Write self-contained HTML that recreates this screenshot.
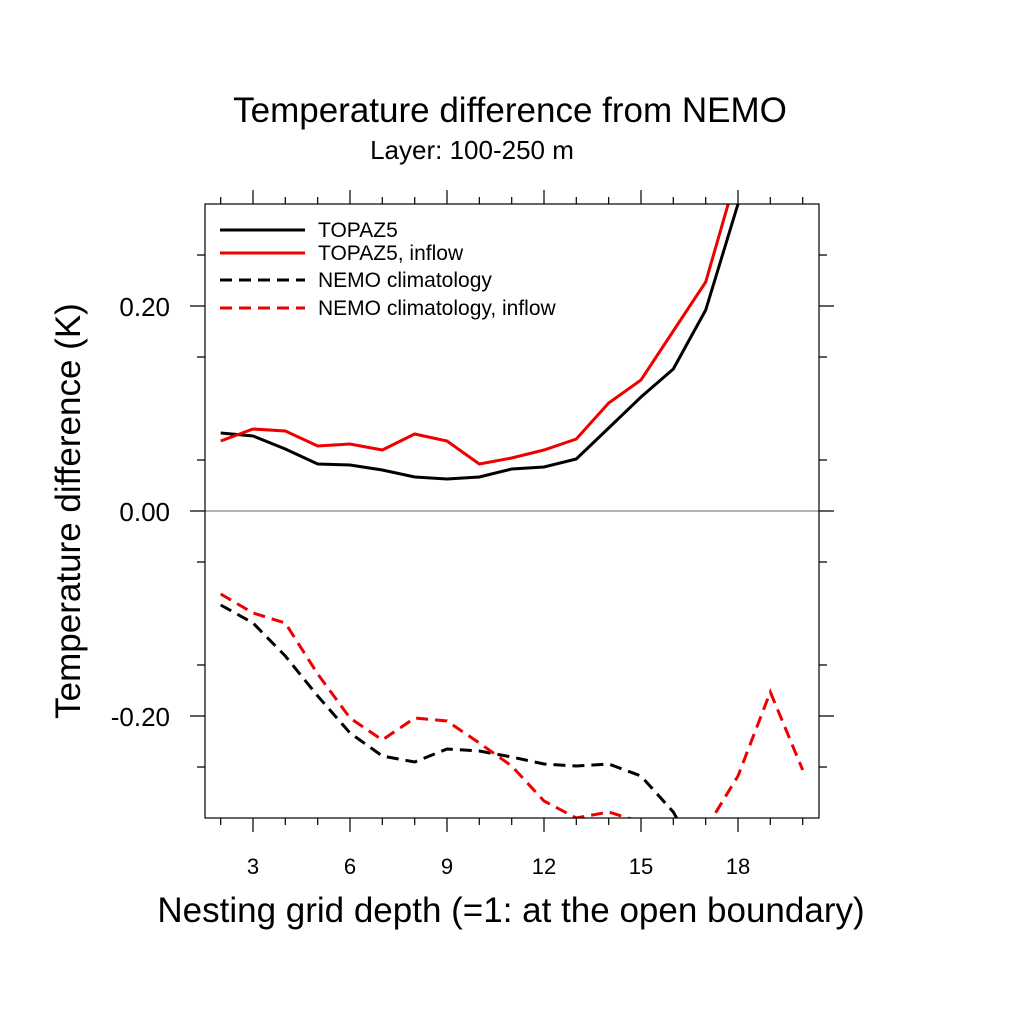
<!DOCTYPE html>
<html><head><meta charset="utf-8"><style>body{margin:0;background:#fff}</style></head><body>
<svg width="1024" height="1024" xmlns="http://www.w3.org/2000/svg" font-family="Liberation Sans, sans-serif">
<defs><clipPath id="c"><rect x="205" y="204" width="614" height="614"/></clipPath></defs>
<text x="510" y="122" font-size="35" text-anchor="middle">Temperature difference from NEMO</text>
<text x="472" y="159" font-size="26" text-anchor="middle">Layer: 100-250 m</text>
<line x1="205" y1="511" x2="819" y2="511" stroke="#999" stroke-width="1.5"/>
<g clip-path="url(#c)" fill="none" stroke-width="3">
<polyline stroke="#000" points="220.7,433 253,436 285.3,449 317.7,464 350,465 382.3,470 414.7,477 447,479 479.3,477 511.7,469 544,467 576.3,459 608.7,428 641,397 673.3,369 705.7,310 738,204 770,100"/>
<polyline stroke="#e00" points="220.7,441 253,429 285.3,431 317.7,446 350,444 382.3,450 414.7,434 447,441 479.3,464 511.7,458 544,450 576.3,439 608.7,403 641,380 673.3,331 705.7,282 738,170"/>
<polyline stroke="#000" stroke-dasharray="12,7" points="220.7,605 253,623 285.3,656 317.7,696 350,733 382.3,756 414.7,762 447,749 479.3,751 511.7,757 544,764 576.3,766 608.7,764 641,776 673.3,812 705.7,870"/>
<polyline stroke="#e00" stroke-dasharray="12,7" points="220.7,594 253,613 285.3,623 317.7,674 350,718 382.3,740 414.7,718 447,721 479.3,743 511.7,766 544,801 576.3,818 608.7,812 641,822 673.3,850 705.7,829 738,776 770.3,692 802.7,770"/>
</g>
<rect x="205" y="204" width="614" height="614" fill="none" stroke="#000" stroke-width="1.2"/>
<g stroke="#000" stroke-width="1.2">
<path d="M253,204v-14M350,204v-14M447,204v-14M544,204v-14M641,204v-14M738,204v-14M253,818v14M350,818v14M447,818v14M544,818v14M641,818v14M738,818v14"/>
<path d="M220.7,204v-7M285.3,204v-7M317.7,204v-7M382.3,204v-7M414.7,204v-7M479.3,204v-7M511.7,204v-7M576.3,204v-7M608.7,204v-7M673.3,204v-7M705.7,204v-7M770.3,204v-7M802.7,204v-7"/>
<path d="M220.7,818v7M285.3,818v7M317.7,818v7M382.3,818v7M414.7,818v7M479.3,818v7M511.7,818v7M576.3,818v7M608.7,818v7M673.3,818v7M705.7,818v7M770.3,818v7M802.7,818v7"/>
<path d="M205,306h-15M205,511h-15M205,716h-15M819,306h15M819,511h15M819,716h15"/>
<path d="M205,255h-8M205,357h-8M205,460h-8M205,562h-8M205,665h-8M205,767h-8M819,255h8M819,357h8M819,460h8M819,562h8M819,665h8M819,767h8"/>
</g>
<g font-size="22" text-anchor="middle">
<text x="253" y="874">3</text><text x="350" y="874">6</text><text x="447" y="874">9</text><text x="544" y="874">12</text><text x="641" y="874">15</text><text x="738" y="874">18</text>
</g>
<g font-size="26" text-anchor="end">
<text x="170" y="316">0.20</text><text x="170" y="521">0.00</text><text x="170" y="726">-0.20</text>
</g>
<text x="511" y="922" font-size="35" text-anchor="middle">Nesting grid depth (=1: at the open boundary)</text>
<text transform="translate(80,511) rotate(-90)" font-size="35" text-anchor="middle">Temperature difference (K)</text>
<g stroke-width="3">
<line x1="220" y1="230" x2="305" y2="230" stroke="#000"/>
<line x1="220" y1="253" x2="305" y2="253" stroke="#e00"/>
<line x1="220" y1="280" x2="305" y2="280" stroke="#000" stroke-dasharray="12,7"/>
<line x1="220" y1="308" x2="305" y2="308" stroke="#e00" stroke-dasharray="12,7"/>
</g>
<g font-size="21">
<text x="318" y="237">TOPAZ5</text><text x="318" y="260">TOPAZ5, inflow</text><text x="318" y="287">NEMO climatology</text><text x="318" y="315">NEMO climatology, inflow</text>
</g>
</svg>
</body></html>
